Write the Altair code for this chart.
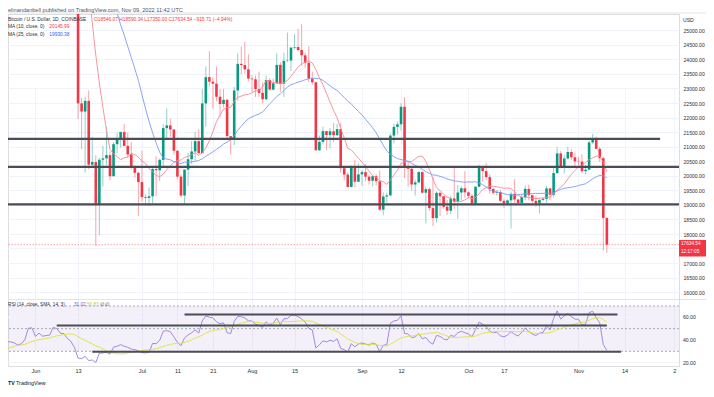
import altair as alt
import numpy as np
import pandas as pd

close_apr = [46281, 45868, 46453, 46622, 45555, 43206, 43503, 42287, 42782, 42208, 39521, 40127, 41166, 39936, 40553,
             40424, 39717, 40827, 41502, 41375, 40527, 39741, 39486, 39469, 40458, 38117, 39241, 39773, 38609, 37714]
close_may = [38469, 38529, 37750, 39698, 36575, 36040, 35501, 34059, 30296, 31022, 28936, 29047, 29283, 30101, 31305,
             29862, 30425, 28720, 30314, 29200, 29432, 30323, 29098, 29655, 29562, 29267, 28627, 28814, 29445, 31726, 31792]
close_jun = [29799, 30467, 29704, 29833, 29906, 31370, 31155, 30214, 30112, 29083, 28360, 26762, 22487, 22207, 22573,
             20382, 20471, 19018, 20553, 20600, 20711, 19987, 21086, 21232, 21502, 21027, 20735, 20281, 20104, 19785]
close_jul = [19269, 19242, 19297, 20231, 20190, 20548, 21638, 21731, 21592, 20860, 19971, 19324, 20212, 20570, 20836,
             21190, 20779, 22486, 23389, 23232, 23165, 22715, 22465, 22609, 21362, 21240, 22931, 23844, 23805, 23656, 23337]
close_aug = [23314, 22978, 22847, 22631, 23289, 22961, 23176, 23809, 23164, 23948, 23958, 24403, 24424, 24319, 24137,
             23883, 23335, 23213, 20878, 21166, 21534, 21399, 21528, 21395, 21601, 20260, 20042, 19617, 20298, 19797, 20050]
close_sep = [20127, 19970, 19832, 19987, 19812, 18838, 19290, 19330, 21381, 21681, 21769, 22370, 20297, 20241, 19701,
             19773, 20128, 19420, 19544, 18891, 18547, 19414, 19298, 18937, 18802, 19223, 19111, 19427, 19573, 19432]
close_oct = [19312, 19044, 19624, 20337, 20161, 19955, 19547, 19417, 19446, 19141, 19051, 19157, 19383, 19186, 19068,
             19268, 19551, 19334, 19140, 19054, 19172, 19208, 19567, 19346, 20096, 20770, 20286, 20595, 20818, 20636, 20496]
close_nov = [20485, 20160, 20210, 21147, 21283, 20926, 20603, 18550, 17634.54]

# highs / lows of the visible candles, 13 Jun -> 9 Nov
high_jun = [26795, 22681, 22703, 22934, 21333, 20707, 20610, 21024, 21683, 20835, 21158, 21472, 21520, 21783, 21478,
            21164, 20364, 20141]
low_jun = [21950, 20920, 20111, 20232, 20333, 17600, 17961, 19637, 20361, 19848, 19976, 20777, 20964, 21016, 20620,
           20228, 19937, 18626]
high_jul = [20866, 19371, 19602, 20325, 20675, 20595, 21771, 22314, 21955, 21596, 20865, 20046, 20223, 20789, 21192,
            21514, 21600, 22986, 23757, 24276, 23387, 23756, 22974, 22977, 22652, 21375, 23049, 24199, 24442, 24610, 24174]
low_jul = [19104, 19025, 18966, 19055, 19304, 19823, 20296, 21257, 21347, 20727, 19891, 19265, 18999, 19652, 20400,
           20518, 20752, 20770, 21683, 23071, 22303, 22558, 22008, 22340, 21289, 20730, 21054, 22580, 23488, 23509, 23243]
high_aug = [23464, 23442, 23578, 23213, 23437, 23356, 23334, 24203, 23901, 24226, 24918, 24412, 24860, 25047, 25212,
            24226, 24446, 23580, 23220, 21382, 21692, 21540, 21639, 21810, 21783, 21816, 20340, 20111, 20357, 20542, 20420]
low_aug = [22890, 22709, 22709, 22486, 22589, 22934, 22920, 23154, 22884, 22707, 23902, 23604, 24345, 24268, 23773,
           23708, 23216, 23126, 20868, 20856, 21077, 20890, 20939, 21164, 21368, 20115, 19846, 19600, 19600, 19617, 19790]
high_sep = [20198, 20401, 20037, 19999, 20058, 20180, 19427, 19417, 21447, 21790, 21860, 22488, 22700, 20479, 20330,
            19860, 20162, 20164, 19634, 19602, 19956, 19464, 19464, 19303, 19178, 19310, 20338, 19688, 19640, 20164]
low_sep = [19653, 19814, 19698, 19636, 19673, 18800, 18644, 19076, 19298, 21115, 21410, 21558, 19919, 19634, 19497,
           19320, 19748, 19392, 18360, 18791, 18270, 18402, 18617, 18870, 18659, 18680, 18868, 18526, 19155, 19250]
high_oct = [19471, 19370, 19653, 20380, 20343, 20442, 20042, 19601, 19515, 19525, 19215, 19196, 19453, 19889, 19212,
            19366, 19666, 19698, 19348, 19315, 19237, 19257, 19650, 19574, 20340, 20988, 20854, 20724, 20988, 20917, 20795]
low_oct = [19231, 19011, 19028, 19603, 19801, 19853, 19389, 19350, 19321, 19095, 18896, 18996, 18190, 19073, 19020,
           19068, 19160, 19157, 19073, 18942, 18712, 19136, 19073, 19158, 19257, 20063, 20255, 20086, 20560, 20547, 20287]
high_nov = [20647, 20742, 20375, 21209, 21446, 21343, 20993, 20664, 18590.34]
low_nov = [20359, 20087, 20048, 20188, 21097, 20920, 20474, 17430, 17350.00]

price_grid = list(range(16000, 25001, 500))
price_ticks = [v for v in price_grid if v != 17500]   # 17500 label is hidden behind the last-price tag
rsi_ticks = [20, 40, 60]
rsi_levels = [70, 50, 30]

support_price = [21271, 20310, 19020]
support_start = ["2022-05-15", "2022-05-15", "2022-05-15"]
support_end = ["2022-11-24", "2022-12-10", "2022-12-10"]

rsi_line_val = [62.5, 52.8, 29.6]
rsi_line_start = ["2022-07-13", "2022-06-07", "2022-06-17"]
rsi_line_end = ["2022-11-12", "2022-11-09", "2022-11-13"]

x_label_dates = ["2022-06-01", "2022-06-13", "2022-07-01", "2022-07-11", "2022-07-21", "2022-08-01", "2022-08-13",
                 "2022-09-01", "2022-09-12", "2022-10-01", "2022-10-11", "2022-11-01", "2022-11-14", "2022-11-28"]
x_label_text = ["Jun", "13", "Jul", "11", "21", "Aug", "15", "Sep", "12", "Oct", "17", "Nov", "14", "2"]

last_price = 17634.54

# ---------------- derived tables ----------------
closes = close_apr + close_may + close_jun + close_jul + close_aug + close_sep + close_oct + close_nov
highs = high_jun + high_jul + high_aug + high_sep + high_oct + high_nov
lows = low_jun + low_jul + low_aug + low_sep + low_oct + low_nov

dates = pd.date_range("2022-04-01", periods=len(closes), freq="D")
s = pd.Series(closes, index=dates, dtype=float)
ma10 = s.rolling(10).mean()
ma25 = s.rolling(25).mean()


def rma(x, n):
    out = np.full(len(x), np.nan)
    avg = np.mean(x[1:n + 1])
    out[n] = avg
    for i in range(n + 1, len(x)):
        avg = (avg * (n - 1) + x[i]) / n
        out[i] = avg
    return out


dlt = np.diff(s.values, prepend=s.values[0])
up = np.where(dlt > 0, dlt, 0.0)
dn = np.where(dlt < 0, -dlt, 0.0)
au, ad = rma(up, 14), rma(dn, 14)
rsi = pd.Series(100 - 100 / (1 + au / ad), index=dates)
rsi_ma = rsi.rolling(14).mean()

dstr = [d.strftime("%Y-%m-%d") for d in dates]
lines = pd.DataFrame({"date": dstr, "ma10": ma10.values, "ma25": ma25.values,
                      "rsi": rsi.values, "rsima": rsi_ma.values})
lines = lines[lines["date"] >= "2022-05-18"]

i0 = dstr.index("2022-06-13")
candles = pd.DataFrame({
    "date": dstr[i0:],
    "open": s.shift(1).values[i0:],
    "close": s.values[i0:],
    "high": highs,
    "low": lows,
})

sup = pd.DataFrame({"x": support_start, "x2": support_end, "p": support_price})
rsl = pd.DataFrame({"x": rsi_line_start, "x2": rsi_line_end, "r": rsi_line_val})

# ---------------- layout / styles ----------------
W, H = 671, 352
FONT = "Liberation Sans"
GREEN, RED = "#089981", "#f23645"
DARK = "#4a4d57"
TXT = "#2a2e39"
GRID = "#f0f3fa"

ms = lambda d: int(pd.Timestamp(d, tz="UTC").value // 10**6)
DAY = 86400000
t13 = ms("2022-06-13")
x_domain = [t13 - 18.33 * DAY, t13 + 167.92 * DAY]

keys_js = "[" + ",".join("'" + d[5:7] + d[8:10] + "'" for d in x_label_dates) + "]"
text_js = "[" + ",".join("'" + t + "'" for t in x_label_text) + "]"
label_expr = f"{text_js}[indexof({keys_js}, utcFormat(datum.value, '%m%d'))]"

X_AXIS = alt.Axis(values=[ms(d) for d in x_label_dates], labelExpr=label_expr, title=None, grid=True,
                  gridColor=GRID, gridWidth=1, domain=False, ticks=False, labelPadding=2.5,
                  labelFontSize=5.6, labelColor=TXT, labelFont=FONT, labelFlush=False, labelOverlap=False)
X_SCALE = alt.Scale(type="utc", domain=x_domain, nice=False)
XE = alt.X("date:T", scale=X_SCALE, axis=X_AXIS)

PS = alt.Scale(domain=[16000, 25000], range=[278.3, 16.2], zero=False, nice=False)
P_AXIS = alt.Axis(orient="right", values=price_ticks, format=".2f", title=None, domain=False, ticks=False,
                  labelPadding=4, labelFontSize=5.1, labelColor=TXT, labelFont=FONT, grid=True,
                  gridColor=GRID, gridWidth=1, labelFlush=False, labelOverlap=False)
RS = alt.Scale(domain=[30, 70], range=[337.3, 292.0], zero=False, nice=False)

cond = alt.condition("datum.close >= datum.open", alt.value(GREEN), alt.value(RED))

# ---------------- price pane ----------------
grid_extra = alt.Chart(pd.DataFrame({"p": [17500]})).mark_rule(color=GRID, strokeWidth=1).encode(
    y=alt.Y("p:Q", scale=PS, axis=P_AXIS))
last_line = alt.Chart(pd.DataFrame({"p": [last_price]})).mark_rule(
    color=RED, strokeDash=[1.5, 1.5], strokeWidth=0.8, opacity=0.55).encode(
    y=alt.Y("p:Q", scale=PS, axis=P_AXIS))

wicks = alt.Chart(candles).mark_rule(strokeWidth=0.9, opacity=0.5, clip=True).encode(
    x=XE, y=alt.Y("low:Q", scale=PS, axis=P_AXIS), y2="high:Q", color=cond)
bodies = alt.Chart(candles).mark_bar(size=2.6, clip=True).encode(
    x=XE, y=alt.Y("open:Q", scale=PS, axis=P_AXIS), y2="close:Q", color=cond)

ma10_line = alt.Chart(lines).mark_line(color="#f58a94", strokeWidth=0.9, clip=True).encode(
    x=XE, y=alt.Y("ma10:Q", scale=PS, axis=P_AXIS))
ma25_line = alt.Chart(lines).mark_line(color="#7e9bf0", strokeWidth=0.9, clip=True).encode(
    x=XE, y=alt.Y("ma25:Q", scale=PS, axis=P_AXIS))

sup_lines = alt.Chart(sup).mark_rule(color=DARK, strokeWidth=2.2, clip=True).encode(
    x=alt.X("x:T", scale=X_SCALE, axis=X_AXIS), x2="x2:T", y=alt.Y("p:Q", scale=PS, axis=P_AXIS))

price = alt.layer(grid_extra, last_line, wicks, bodies, ma10_line, ma25_line, sup_lines)

# ---------------- RSI pane ----------------
band = alt.Chart(pd.DataFrame({"a": [70], "b": [30]})).mark_rect(color="#7e57c2", opacity=0.09).encode(
    x=alt.value(0), x2=alt.value(W), y=alt.Y("a:Q", scale=RS, axis=None), y2="b:Q")
rgrid = alt.Chart(pd.DataFrame({"v": rsi_ticks})).mark_rule(color=GRID, strokeWidth=1).encode(
    y=alt.Y("v:Q", scale=RS, axis=None))
rdash = alt.Chart(pd.DataFrame({"v": rsi_levels})).mark_rule(
    color="#9598a1", strokeDash=[2, 2], strokeWidth=0.8).encode(y=alt.Y("v:Q", scale=RS, axis=None))
rsi_line = alt.Chart(lines).mark_line(color="#9a7dd8", strokeWidth=0.9).encode(
    x=XE, y=alt.Y("rsi:Q", scale=RS, axis=None))
rsima_line = alt.Chart(lines).mark_line(color="#dfe23c", strokeWidth=0.9).encode(
    x=XE, y=alt.Y("rsima:Q", scale=RS, axis=None))
rsi_tl = alt.Chart(rsl).mark_rule(color=DARK, strokeWidth=2.2, clip=True).encode(
    x=alt.X("x:T", scale=X_SCALE, axis=X_AXIS), x2="x2:T", y=alt.Y("r:Q", scale=RS, axis=None))
rsi_lab = alt.Chart(pd.DataFrame({"v": rsi_ticks})).mark_text(
    align="left", baseline="middle", fontSize=5.1, color=TXT, font=FONT).encode(
    x=alt.value(675), y=alt.Y("v:Q", scale=RS, axis=None), text=alt.Text("v:Q", format=".2f"))

rsi_pane = alt.layer(band, rgrid, rdash, rsi_line, rsima_line, rsi_tl, rsi_lab)


# ---------------- text / decorations ----------------
def txt(s, x, y, color=TXT, size=5.2, weight="normal", align="left"):
    return alt.Chart(pd.DataFrame({"t": [s]})).mark_text(
        align=align, baseline="middle", fontSize=size, color=color, font=FONT, fontWeight=weight).encode(
        x=alt.value(x), y=alt.value(y), text="t:N")


def hline(y, x1, x2, color="#e0e3eb", w=1):
    return alt.Chart(pd.DataFrame({"a": [0]})).mark_rule(color=color, strokeWidth=w).encode(
        x=alt.value(x1), x2=alt.value(x2), y=alt.value(y))


box = alt.Chart(pd.DataFrame({"a": [0]})).mark_rect(color=RED).encode(
    x=alt.value(671), x2=alt.value(700), y=alt.value(226.0), y2=alt.value(242.5))

deco = [
    hline(-1, 0, 698), hline(285.5, 0, 698),
    txt("elinandanbell published on TradingView.com, Nov 09, 2022 11:42 UTC", 0, -4, "#50535e", 5.6),
    txt("Bitcoin / U.S. Dollar, 1D, COINBASE", 0, 6, TXT, 4.85),
    txt("O18546.07 H18590.34 L17350.00 C17634.54 \u2212915.71 (\u22124.94%)", 86, 6, RED, 4.85),
    txt("MA (10, close, 0)", 0, 13.3, TXT, 4.85),
    txt("20145.99", 41.3, 13.3, RED, 4.85),
    txt("MA (25, close, 0)", 0, 20.7, TXT, 4.85),
    txt("19930.38", 41.3, 20.7, "#2962ff", 4.85),
    txt("USD", 675, 6, TXT, 5.1),
    box,
    txt("17634.54", 673, 230.2, "white", 4.7),
    txt("12:17:05", 673, 237.8, "white", 4.7),
    txt("RSI (14, close, SMA, 14, 3)", 0, 291, TXT, 4.7),
    txt("31.02", 66, 291, "#7e57c2", 4.7),
    txt("56.83", 79, 291, "#c9cc1e", 4.7),
    txt("\u2205  \u2205", 92, 291, TXT, 4.7),
    txt("TV", 0, 369, "#131722", 5.2, "bold"),
    txt("TradingView", 8, 369, "#131722", 5.4),
]

chart = alt.layer(price, rsi_pane, *deco).resolve_scale(y="independent").properties(
    width=W, height=H,
    autosize=alt.AutoSizeParams(type="none"),
    padding={"left": 0, "top": 6, "right": 27, "bottom": 20},
).configure_view(stroke=None).configure(background="white")

chart.save("out.html", embed_options={"renderer": "svg", "actions": False})
